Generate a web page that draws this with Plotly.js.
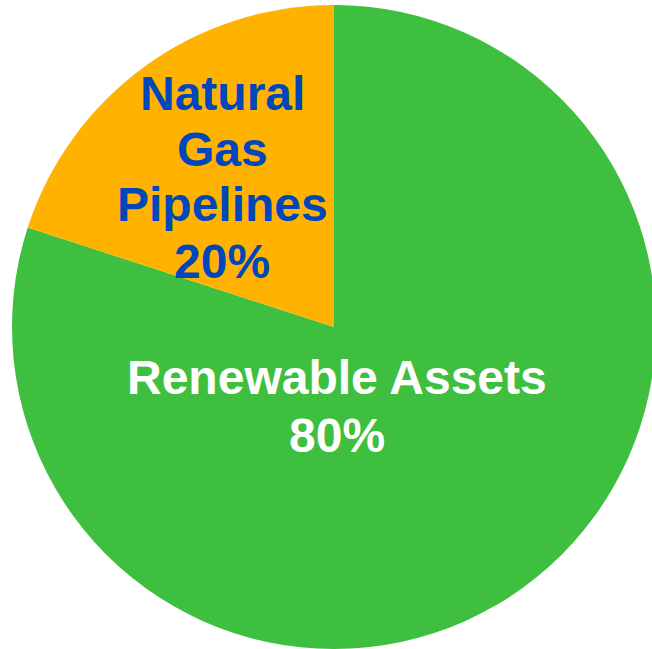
<!DOCTYPE html>
<html>
<head>
<meta charset="utf-8">
<script src="https://cdn.plot.ly/plotly-3.0.1.min.js"></script>
<style>
html, body { margin: 0; padding: 0; overflow: hidden; background: #ffffff; }
#chart { width: 660px; height: 649px; }
</style>
</head>
<body>
<div id="chart"></div>
<script>
// Data
const categories = ["Renewable Assets", "Natural Gas Pipelines"];
const labelLines = [["Renewable Assets"], ["Natural", "Gas", "Pipelines"]];
const values = [80, 20];
const colors = ["#3FBF3F", "#FFB300"];
const textColors = ["#FFFFFF", "#0047BB"];

const total = values.reduce((a, b) => a + b, 0);
const pct = values.map(v => Math.round(v / total * 100) + "%");

const trace = {
  type: "pie",
  labels: categories,
  values: values,
  sort: false,
  direction: "clockwise",
  rotation: 0,
  marker: { colors: colors, line: { width: 0 } },
  textinfo: "none",
  hoverinfo: "label+percent",
  showlegend: false
};

// label block placement (pixels in the plot area) and line spacing
const plotTop = 5, plotH = 644, plotLeft = 12, plotW = 644;
const labelCenter = [{ x: 337, y: 406 }, { x: 222, y: 177 }];
const lineSpacing = [58, 56];

const annotations = [];
categories.forEach((c, i) => {
  const lines = labelLines[i].concat([pct[i]]);
  const n = lines.length;
  lines.forEach((t, k) => {
    const ypx = labelCenter[i].y + (k - (n - 1) / 2) * lineSpacing[i];
    annotations.push({
      xref: "paper", yref: "paper",
      x: (labelCenter[i].x - plotLeft) / plotW,
      y: 1 - (ypx - plotTop) / plotH,
      xanchor: "center", yanchor: "middle",
      showarrow: false,
      text: t,
      font: { family: "Liberation Sans, Arial, sans-serif", size: 48, color: textColors[i], weight: "bold" }
    });
  });
});

const layout = {
  width: 660,
  height: 649,
  margin: { l: plotLeft, r: 4, t: plotTop, b: 0 },
  paper_bgcolor: "#ffffff",
  plot_bgcolor: "#ffffff",
  showlegend: false,
  annotations: annotations
};

Plotly.newPlot("chart", [trace], layout, { displayModeBar: false, staticPlot: true });
</script>
</body>
</html>
